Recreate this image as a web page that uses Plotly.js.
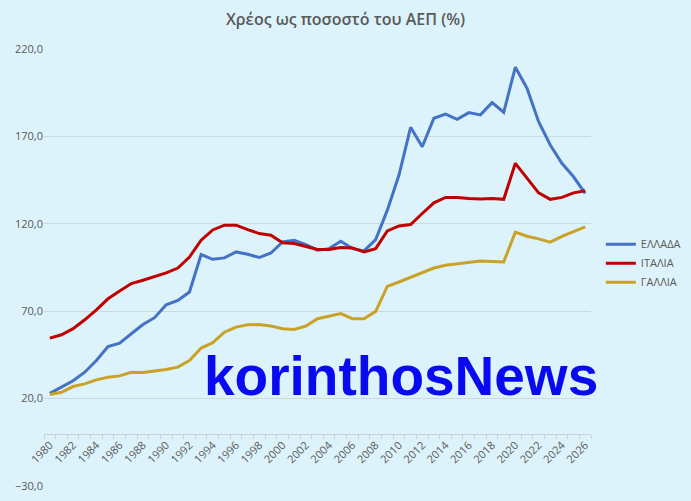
<!DOCTYPE html>
<html>
<head>
<meta charset="utf-8">
<script src="https://cdn.plot.ly/plotly-3.0.1.min.js"></script>
<style>html,body{margin:0;padding:0;background:#ddf3fb;}</style>
</head>
<body>
<div id="chart" style="width:691px;height:501px;"></div>
<script>
const years = [1980,1981,1982,1983,1984,1985,1986,1987,1988,1989,1990,1991,1992,1993,1994,1995,1996,1997,1998,1999,2000,2001,2002,2003,2004,2005,2006,2007,2008,2009,2010,2011,2012,2013,2014,2015,2016,2017,2018,2019,2020,2021,2022,2023,2024,2025,2026];
const greece = [23.0,26.5,30.2,35.1,41.8,49.8,51.7,57.1,62.4,66.3,73.7,76.2,81.0,102.4,99.7,100.5,103.9,102.6,100.7,103.3,109.6,110.6,108.1,104.9,105.8,110.0,105.8,104.5,111.0,127.8,147.9,175.2,164.1,180.4,182.7,179.8,183.6,182.3,189.3,183.8,209.6,197.6,178.4,165.1,154.6,146.9,137.4];
const italy = [54.6,56.5,60.0,65.1,70.8,77.1,81.5,85.8,87.7,90.0,91.9,94.7,101.0,110.6,116.5,119.2,119.2,116.7,114.4,113.5,109.1,108.7,106.8,105.3,105.3,106.4,106.2,103.9,105.8,115.9,118.8,119.6,125.9,132.0,135.1,135.1,134.5,134.2,134.5,134.0,154.6,146.0,137.7,134.0,135.1,137.7,138.9];
const france = [22.3,23.6,26.9,28.4,30.7,32.2,33.0,35.1,35.0,35.7,36.6,38.0,41.8,48.9,52.0,58.0,60.9,62.2,62.4,61.5,60.0,59.6,61.5,65.7,67.2,68.6,65.7,65.7,69.9,84.2,86.7,89.4,91.9,94.7,96.3,97.2,98.2,98.7,98.5,98.2,115.2,112.9,111.4,109.5,112.8,115.6,118.2];
const seriesNames = ["ΕΛΛΑΔΑ","ΙΤΑΛΙΑ","ΓΑΛΛΙΑ"];
const tickYears = [1980,1982,1984,1986,1988,1990,1992,1994,1996,1998,2000,2002,2004,2006,2008,2010,2012,2014,2016,2018,2020,2022,2024,2026];
const tickLabels = tickYears.map(String);
const titleText = "Χρέος ως ποσοστό του ΑΕΠ (%)";
const watermark = "korinthosNews";

const colors = ["#4472c4","#c00000","#c9a227"];
const data = [greece, italy, france].map((vals, i) => ({
  x: years, y: vals, name: seriesNames[i], type: "scatter", mode: "lines",
  line: {color: colors[i], width: 3}
}));

const layout = {
  width: 691, height: 501,
  paper_bgcolor: "#ddf3fb", plot_bgcolor: "#ddf3fb",
  margin: {l: 44, r: 100, t: 49, b: 15, autoexpand: false},
  separators: ",.",
  font: {family: "Open Sans, sans-serif", color: "#595959", size: 11},
  title: {text: titleText, x: 0.5, xanchor: "center", y: 0.962, yanchor: "middle",
          font: {family: "Open Sans, sans-serif", size: 16, color: "#595959", weight: 600}},
  xaxis: {
    range: [1979.5, 2026.5], anchor: "free", position: 0.12,
    tickvals: tickYears, ticktext: tickLabels, tickangle: -45,
    ticks: "", showgrid: false, zeroline: false,
    showline: true, linecolor: "#c9d3d8", linewidth: 1,
    tickfont: {size: 11, color: "#595959"},
    minor: {tick0: 1979.5, dtick: 1, ticks: "outside", ticklen: 4, tickcolor: "#c9d3d8", showgrid: false}
  },
  yaxis: {
    range: [-30, 220], dtick: 50, tick0: -30, tickformat: ".1f",
    showgrid: true, gridcolor: "#cdd8dc", gridwidth: 1,
    zeroline: false, showline: false, ticks: "",
    tickfont: {size: 11, color: "#595959"}
  },
  legend: {x: 1.018, xanchor: "left", y: 0.51, yanchor: "middle",
           bgcolor: "rgba(0,0,0,0)", font: {size: 11, color: "#595959"},
           itemwidth: 30, tracegroupgap: 2},
  annotations: [{
    text: watermark, xref: "paper", yref: "paper", x: 0.653, y: 0.252,
    xanchor: "center", yanchor: "middle", showarrow: false,
    font: {family: "Liberation Sans, Arial, sans-serif", size: 55, color: "#0a0af0", weight: "bold"}
  }]
};

Plotly.newPlot("chart", data, layout, {displayModeBar: false, staticPlot: true});
</script>
</body>
</html>
